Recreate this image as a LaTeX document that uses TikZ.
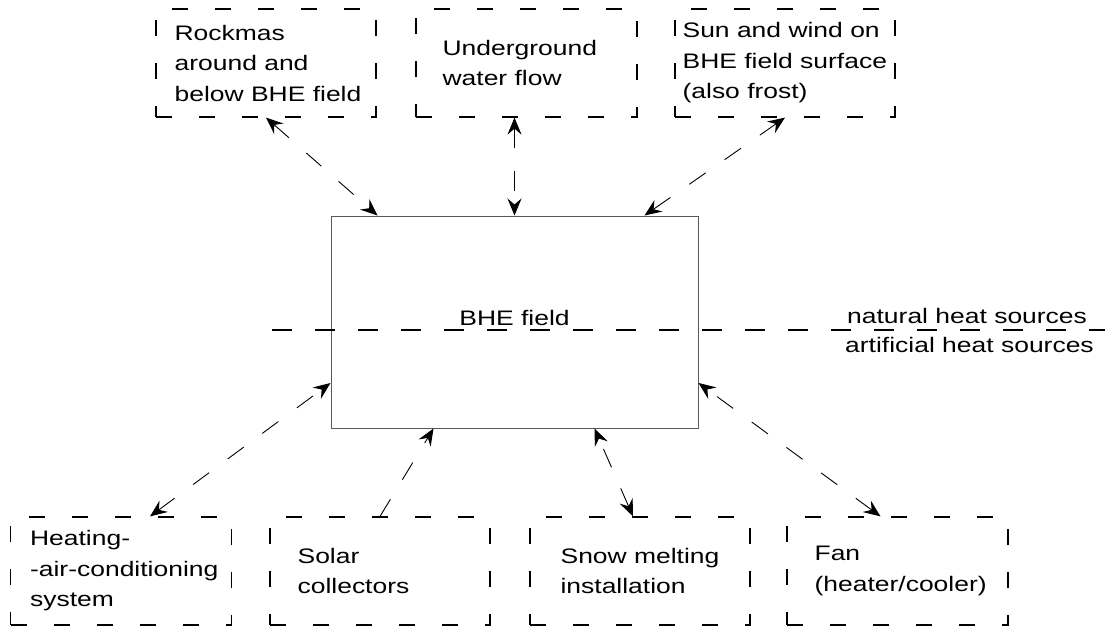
\documentclass[tikz,border=0pt]{standalone}
\usepackage{fontspec}
\setmainfont{Liberation Sans}[FakeStretch=1.26]
\usetikzlibrary{arrows.meta,calc}

\tikzset{
  hs/.tip={Stealth[length=17pt,width=14pt,inset=6pt]},
  source/.style={draw, line width=1.2pt, dash pattern=on 16pt off 27pt, inner sep=0pt, minimum height=108pt},
  caption/.style={anchor=west, align=left, inner sep=0pt},
  flow/.style={line width=0.9pt, dash pattern=on 20pt off 23pt},
  divider/.style={line width=1.3pt, dash pattern=on 20pt off 23pt},
}

\begin{document}
\begin{tikzpicture}[x=1pt,y=-1pt,font=\fontsize{21pt}{30.5pt}\selectfont]
\useasboundingbox (0,0) rectangle (1105,629);
%\draw[help lines] (0,0) grid[step=50] (1105,629);

%BHE FIELD
\node[draw=black!65, line width=1pt, minimum width=367pt, minimum height=212pt, text depth=9pt, inner sep=0pt] (field) at (514.5,322) {BHE field};

%NATURAL SOURCES
\node[source, minimum width=220pt] (rock) at (266,63) {};
\node[caption] (rocktxt) at ([xshift=19pt]rock.west) {Rockmas\\around and\\below BHE field};
\node[source, minimum width=221pt] (water) at (526.5,63) {};
\node[caption] (watertxt) at ([xshift=27pt]water.west) {Underground\\water flow};
\node[source, minimum width=220pt] (sun) at (785,63) {};
\node[caption] (suntxt) at ([xshift=8pt]sun.west) {Sun and wind on\\BHE field surface\\(also frost)};

%ARTIFICIAL SOURCES
\node[source, minimum width=221pt] (heat) at (121,571) {};
\node[caption] (heattxt) at ([xshift=20pt]heat.west) {Heating-\\-air-conditioning\\system};
\node[source, minimum width=220pt] (solar) at (380,571) {};
\node[caption] (solartxt) at ([xshift=28pt]solar.west) {Solar\\collectors};
\node[source, minimum width=220pt] (snow) at (640,571) {};
\node[caption] (snowtxt) at ([xshift=31pt]snow.west) {Snow melting\\installation};
\node[source, minimum width=221pt] (fan) at (897.5,571) {};
\node[caption] (fantxt) at ([xshift=28pt]fan.west) {Fan\\(heater/cooler)};

%DIVIDING LINE
\coordinate (sepw) at (272,330);
\coordinate (sepe) at (1105,330);
\draw[divider] (sepw) -- (sepe);
\node[anchor=base west, inner sep=0pt] (natural) at (847,323) {natural heat sources};
\node[anchor=base west, inner sep=0pt] (artificial) at (845,352) {artificial heat sources};

%EXCHANGE
\draw[flow, hs-hs] (rock.south) -- ([xshift=-137pt]field.north);
\draw[flow, hs-hs] (water.south -| field.north) -- (field.north);
\draw[flow, hs-hs] (sun.south) -- ([xshift=130pt]field.north);
\draw[flow, hs-hs] ([xshift=29pt]heat.north) -- ([yshift=-61pt]field.west);
\draw[flow, -hs] (solar.north) -- ([xshift=-81pt]field.south);
\draw[flow, hs-hs] ([xshift=-7pt]snow.north) -- ([xshift=80pt]field.south);
\draw[flow, hs-hs] ([xshift=-17pt]fan.north) -- ([yshift=-61pt]field.east);
\end{tikzpicture}
\end{document}
